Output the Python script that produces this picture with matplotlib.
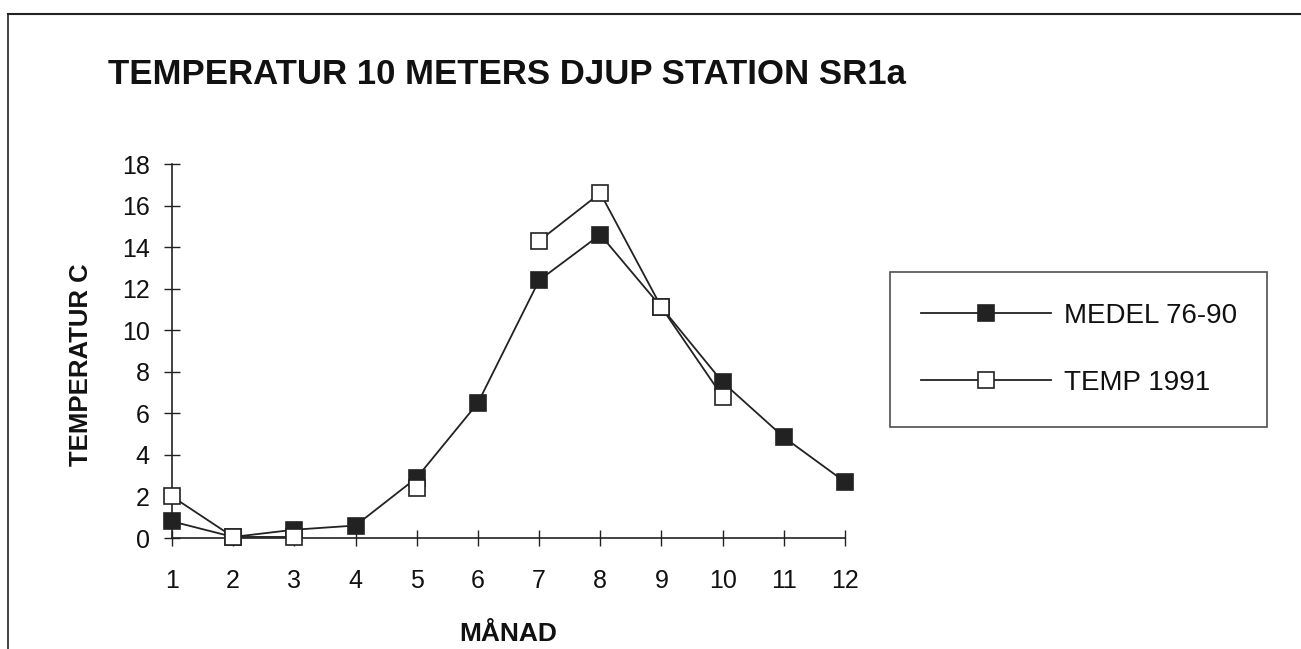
import numpy as np
import matplotlib
matplotlib.use("Agg")
import matplotlib.pyplot as plt
from matplotlib.lines import Line2D

plt.rcParams['font.family'] = ['Liberation Sans', 'DejaVu Sans']

# Monthly temperature at 10 m depth, station SR1a
months = [1, 2, 3, 4, 5, 6, 7, 8, 9, 10, 11, 12]
medel_76_90 = [0.8, 0.05, 0.4, 0.6, 2.9, 6.5, 12.4, 14.6, 11.1, 7.5, 4.85, 2.7]
temp_1991 = [2.0, 0.05, 0.05, np.nan, 2.4, np.nan, 14.3, 16.6, 11.1, 6.8, np.nan, np.nan]
y_ticks = [0, 2, 4, 6, 8, 10, 12, 14, 16, 18]

W, H = 1301, 649
fig = plt.figure(figsize=(W / 100, H / 100), dpi=100)
fig.patch.set_facecolor('white')

ax = fig.add_axes([172 / W, 1 - 538 / H, (845 - 172) / W, (538 - 164) / H])

line_kw = dict(color='#222222', linewidth=1.3, marker='s', markersize=11,
               markeredgecolor='#222222', markeredgewidth=1.2)
ax.plot(months, medel_76_90, markerfacecolor='#222222', label='MEDEL 76-90',
        zorder=3, **line_kw)
ax.plot(months, temp_1991, markerfacecolor='white', label='TEMP 1991',
        zorder=4, **line_kw)

ax.set_xlim(1, 12)
ax.set_ylim(0, 18)
ax.set_xticks(months)
ax.set_yticks(y_ticks)
ax.set_xticklabels([str(m) for m in months])
ax.set_yticklabels([str(v) for v in y_ticks])

for side in ('top', 'right'):
    ax.spines[side].set_visible(False)
for side in ('left', 'bottom'):
    ax.spines[side].set_linewidth(1.2)
    ax.spines[side].set_color('#222222')
for ln in ax.lines:
    ln.set_clip_on(False)

ax.tick_params(axis='both', direction='inout', length=12, width=1.0,
               color='#222222', labelsize=18, labelcolor='#111111')
ax.tick_params(axis='x', pad=16)
ax.tick_params(axis='y', pad=10)

ax.set_xlabel('MÅNAD', fontsize=19, fontweight='bold', color='#111111')
ax.xaxis.set_label_coords(0.5, (538 - 646) / 374)
ax.xaxis.label.set_va('bottom')
ax.set_ylabel('TEMPERATUR C', fontsize=18.5, fontweight='bold', color='#111111')
ax.yaxis.set_label_coords((93 - 172) / 673, (538 - 365) / 374)

fig.text(108 / W, 1 - 75 / H, 'TEMPERATUR 10 METERS DJUP STATION SR1a',
         fontsize=25, fontweight='bold', va='center', ha='left', color='#111111')

leg = ax.legend(loc='upper left',
                bbox_to_anchor=(890 / W, 1 - 272 / H),
                bbox_transform=fig.transFigure,
                fontsize=20, frameon=True, fancybox=False, shadow=False,
                handlelength=4.7, handletextpad=0.45, labelspacing=1.5,
                borderpad=1.1, borderaxespad=0, markerscale=1.0)
leg.get_frame().set_edgecolor('#222222')
leg.get_frame().set_linewidth(1.2)
for t in leg.get_texts():
    t.set_color('#111111')

# outer frame of the page
fig.add_artist(Line2D([8 / W, 1.0], [1 - 14 / H, 1 - 14 / H],
                      transform=fig.transFigure, color='#222222', linewidth=1.5))
fig.add_artist(Line2D([8 / W, 8 / W], [1 - 14 / H, 0.0],
                      transform=fig.transFigure, color='#222222', linewidth=1.2))

fig.savefig('out.png', dpi=100)
